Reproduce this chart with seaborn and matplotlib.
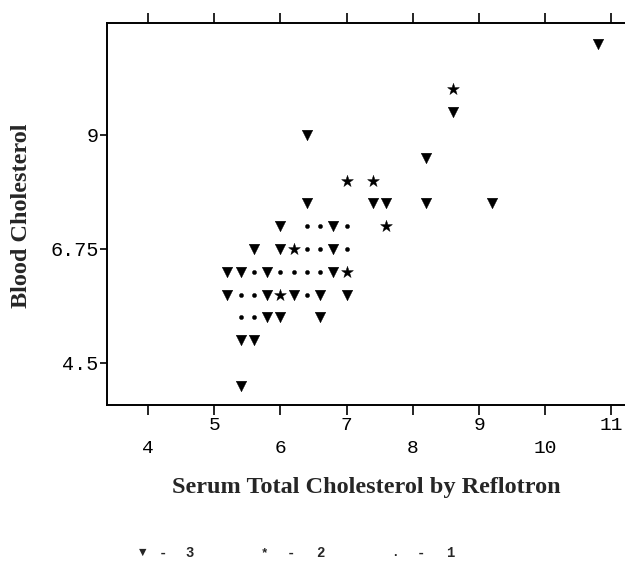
import matplotlib
matplotlib.use("Agg")
import matplotlib.pyplot as plt
import seaborn as sns
import pandas as pd

# grid of plotted cells: x, y and how many observations fall on each
x_vals = [10.8, 8.6, 6.4, 8.2, 6.4, 7.4, 7.6, 8.2, 9.2,
          6.0, 6.8,
          5.6, 6.0, 6.8,
          5.2, 5.4, 5.8, 6.8,
          5.2, 5.8, 6.2, 6.6, 7.0,
          5.8, 6.0, 6.6,
          5.4, 5.6,
          5.4,
          8.6, 7.0, 7.4, 7.6, 6.2, 7.0, 6.0,
          6.4, 6.6, 7.0,
          6.4, 6.6, 7.0,
          5.6, 6.0, 6.2, 6.4, 6.6,
          5.4, 5.6, 6.4,
          5.4, 5.6]
y_vals = [10.8, 9.45, 9.0, 8.55, 7.65, 7.65, 7.65, 7.65, 7.65,
          7.2, 7.2,
          6.75, 6.75, 6.75,
          6.3, 6.3, 6.3, 6.3,
          5.85, 5.85, 5.85, 5.85, 5.85,
          5.4, 5.4, 5.4,
          4.95, 4.95,
          4.05,
          9.9, 8.1, 8.1, 7.2, 6.75, 6.3, 5.85,
          7.2, 7.2, 7.2,
          6.75, 6.75, 6.75,
          6.3, 6.3, 6.3, 6.3, 6.3,
          5.85, 5.85, 5.85,
          5.4, 5.4]
counts = [3] * 29 + [2] * 7 + [1] * 16

x_major = [5, 7, 9, 11]
x_minor = [4, 6, 8, 10]
y_ticks = [4.5, 6.75, 9]
y_tick_labels = ["4.5", "6.75", "9"]

legend_symbols = ["\u25bc", "*", "."]
legend_counts = ["3", "2", "1"]

df = pd.DataFrame({"reflotron": x_vals, "blood": y_vals, "n": counts})

sns.set_theme(style="ticks")
mono = ["Liberation Mono", "DejaVu Sans Mono", "DejaVu Sans"]
plt.rcParams["font.family"] = mono

fig = plt.figure(figsize=(6.25, 5.63), dpi=100)
ax = fig.add_axes([107 / 625, 158 / 563, 519 / 625, 382 / 563])

marker_styles = {3: ("v", 58), 2: ("*", 80), 1: ("o", 9)}
for n, (mk, sz) in marker_styles.items():
    sub = df[df["n"] == n]
    sns.scatterplot(data=sub, x="reflotron", y="blood", marker=mk, s=sz,
                    color="black", edgecolor="black", linewidth=0.3,
                    legend=False, ax=ax)

ax.set_xlim(3.38, 11.22)
ax.set_ylim(3.671, 11.21)

ax.set_xticks(x_major, [str(v) for v in x_major])
ax.set_xticks(x_minor, [str(v) for v in x_minor], minor=True)
ax.set_yticks(y_ticks, y_tick_labels)

for s in ax.spines.values():
    s.set_linewidth(1.4)
    s.set_color("black")

ax.tick_params(axis="x", which="both", direction="out", length=7, width=1.2,
               top=True, labelsize=14, colors="black")
ax.tick_params(axis="x", which="major", pad=2)
ax.tick_params(axis="x", which="minor", pad=18)
ax.tick_params(axis="y", direction="out", length=5, width=1.2, pad=1,
               labelsize=14.5, colors="black")

ax.set_xlabel("")
ax.set_ylabel("")
fig.text(366 / 625, 1 - 488 / 563, "Serum Total Cholesterol by Reflotron",
         family="Liberation Serif", fontweight="bold", fontsize=17.5,
         ha="center", va="center")
fig.text(22 / 625, 1 - 216 / 563, "Blood Cholesterol", rotation=90,
         family="Liberation Serif", fontweight="bold", fontsize=17.5,
         ha="center", va="center")

# legend row: symbol, dash, count
sym_x = [143, 264, 395]
dash_x = [163, 291, 421]
num_x = [190, 320, 450]
for i in range(3):
    yy = 1 - 553 / 563
    fig.text(sym_x[i] / 625, yy, legend_symbols[i], family=mono, fontsize=9,
             fontweight="bold", ha="center", va="center")
    fig.text(dash_x[i] / 625, yy, "-", family=mono, fontsize=10,
             fontweight="bold", ha="center", va="center")
    fig.text(num_x[i] / 625, yy, legend_counts[i], family=mono, fontsize=10,
             fontweight="bold", ha="center", va="center")

fig.savefig("out.png", dpi=100)
